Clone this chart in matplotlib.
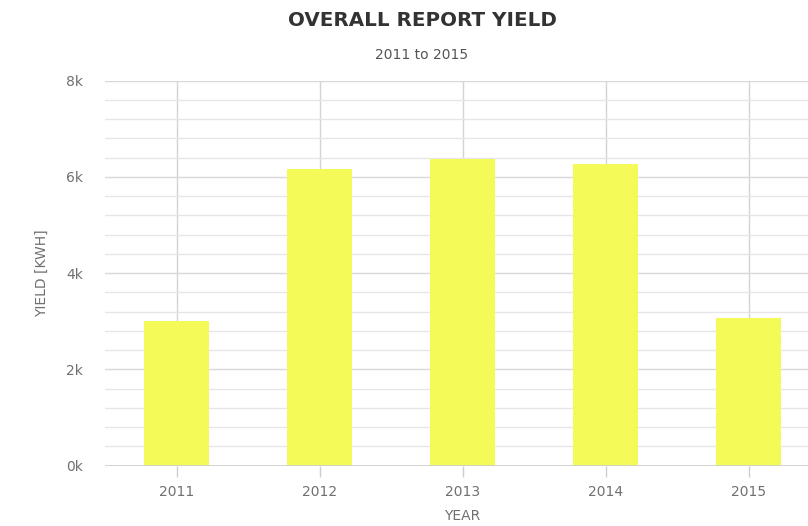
import matplotlib
matplotlib.use('Agg')
import matplotlib.pyplot as plt
import numpy as np

# Yearly yield values
years  = ['2011', '2012', '2013', '2014', '2015']
yields = [3010, 6160, 6370, 6270, 3060]

plt.rcParams['font.family'] = ['DejaVu Sans']

fig = plt.figure(figsize=(8.08, 5.26), dpi=100)
ax = fig.add_axes([105/808, 60.3/526, 715/808, 385/526])

x = np.arange(len(years))
ax.bar(x, yields, width=0.46, color='#f4fb58', zorder=3)

ax.set_xlim(-0.5, len(years) - 0.5)
ax.set_ylim(0, 8000)

# major and minor horizontal grid
ax.set_yticks(np.arange(0, 8001, 2000))
ax.set_yticks(np.arange(0, 8001, 400), minor=True)
ax.set_yticklabels(['%dk' % (v // 1000) for v in range(0, 8001, 2000)])
ax.grid(axis='y', which='major', color='#d8d8d8', linewidth=1.0, zorder=0)
ax.grid(axis='y', which='minor', color='#e6e6e6', linewidth=1.0, zorder=0)
ax.grid(axis='x', which='major', color='#d4d4d4', linewidth=1.0, zorder=0)

ax.set_xticks(x)
ax.set_xticklabels(years)

for s in ax.spines.values():
    s.set_visible(False)
ax.axhline(0, color='#cccccc', linewidth=1.2, zorder=4)

ax.tick_params(axis='y', which='both', length=0, pad=16, labelsize=10, labelcolor='#707070')
ax.tick_params(axis='x', length=8, width=1, color='#cccccc', pad=6, labelsize=10, labelcolor='#707070')

ax.set_xlabel('YEAR', fontsize=10, color='#707070', labelpad=7)
ax.set_ylabel('YIELD [KWH]', fontsize=10, color='#707070', labelpad=12)

fig.text(422/808, 1 - 20/526, 'OVERALL REPORT YIELD', ha='center', va='center',
         fontsize=14.3, fontweight='bold', color='#333333')
fig.text(422/808, 1 - 55/526, '2011 to 2015', ha='center', va='center',
         fontsize=10, color='#555555')

fig.savefig('out.png', dpi=100)
